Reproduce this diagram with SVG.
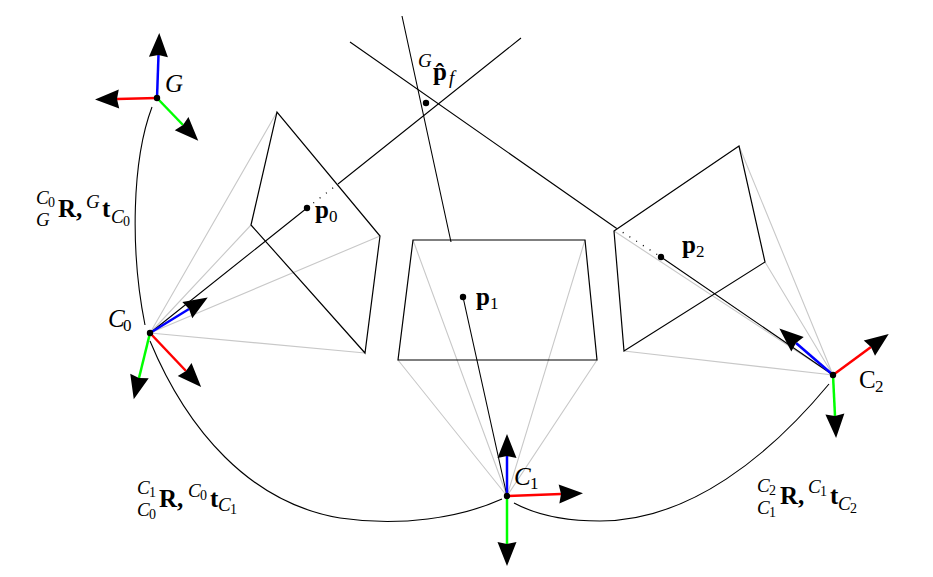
<svg xmlns="http://www.w3.org/2000/svg" width="933" height="577" viewBox="0 0 933 577">
<style>
text{font-family:"Liberation Serif","Times New Roman",serif;fill:#000}
.i{font-style:italic}
.b{font-weight:bold}
.m{font-size:25px}
.s{font-size:19px}
.n{font-size:17px;font-style:normal;font-weight:normal}
.t{font-size:14px;font-style:normal}
.g{stroke:#c8c8c8;stroke-width:1.1;fill:none}
.k{stroke:#000;stroke-width:1.1;fill:none}
.d{stroke:#000;stroke-width:1.3;fill:none;stroke-dasharray:1 7}
.pl{stroke:#000;stroke-width:1.2;fill:none}
.r,.gr,.bl{stroke-width:2.5;fill:none;marker-end:url(#a)}
.r{stroke:#f00}.gr{stroke:#0f0}.bl{stroke:#00f}
</style>
<defs>
<marker id="a" markerUnits="userSpaceOnUse" markerWidth="28" markerHeight="24" refX="3" refY="12" orient="auto">
<path d="M3,12 L1,2.5 L25,12 L1,21.500 Z" fill="#000"/>
</marker>
</defs>
<g id="guides">
<path class="g" d="M150,333L251,225M150,333L277,112M150,333L380,236M150,333L365,353"/>
<path class="g" d="M507,496L413,240M507,496L585,240M507,496L597,360M507,496L398,360"/>
<path class="g" d="M833,375L614,231M833,375L739,146M833,375L765,262M833,375L624,351"/>
</g>
<g id="image-0"><path class="pl" d="M251,225L277,112L380,236L365,353Z"/><circle cx="307" cy="208" r="3.2"/><text x="315" y="218" class="b m">p<tspan class="n" x="329" y="222">0</tspan></text></g>
<g id="image-1"><path class="pl" d="M413,240L585,240L597,360L398,360Z"/><circle cx="463" cy="297" r="3.2"/><text x="476" y="305" class="b m">p<tspan class="n" x="490" y="309">1</tspan></text></g>
<g id="image-2"><path class="pl" d="M614,231L739,146L765,262L624,351Z"/><circle cx="661" cy="257" r="3.2"/><text x="682" y="253" class="b m">p<tspan class="n" x="696" y="257">2</tspan></text></g>
<g id="connectors">
<path class="k" d="M150,333L307,208M338,184L521,38"/>
<path class="d" d="M307,208L338,184"/>
<path class="k" d="M507,496L463,297M451,242L402,16"/>
<path class="k" d="M350,42L616,228M661,257L833,375"/>
<path class="d" d="M616,228L661,257"/>
<path class="k" d="M152,107C132,160 130,250 145,325"/>
<path class="k" d="M150,341C187,430 250,503 340,518C400,527 460,518 502,499"/>
<path class="k" d="M514,503C540,517 570,521 600,521C690,521 770,455 829,384"/>
</g>
<g id="point-f"><circle cx="426" cy="103" r="3.2"/><text x="418" y="67" class="i s">G</text><text x="433" y="80" class="b m">p̂</text><text x="449" y="84" class="i s">f</text></g>
<g id="frame-G">
<line class="bl" x1="157" y1="98" x2="158.500" y2="55"/><line class="r" x1="157" y1="98" x2="117" y2="99"/><line class="gr" x1="157" y1="98" x2="183" y2="125"/>
<circle cx="157" cy="98" r="3.2"/><text x="165" y="92" class="i m">G</text></g>
<g id="frame-C0">
<line class="bl" x1="150" y1="333" x2="189" y2="309"/><line class="r" x1="150" y1="333" x2="186" y2="371"/><line class="gr" x1="150" y1="333" x2="139" y2="378"/>
<circle cx="150" cy="333" r="3.2"/><text x="108" y="327" class="i m">C<tspan class="n" x="123" y="331">0</tspan></text></g>
<g id="frame-C1">
<line class="bl" x1="507" y1="496" x2="507" y2="456"/><line class="r" x1="507" y1="496" x2="561" y2="494"/><line class="gr" x1="507" y1="496" x2="507" y2="544"/>
<circle cx="507" cy="496" r="3.2"/><text x="514" y="485" class="i m">C<tspan class="n" x="530" y="489">1</tspan></text></g>
<g id="frame-C2">
<line class="bl" x1="833" y1="375" x2="796" y2="343"/><line class="r" x1="833" y1="375" x2="871" y2="347"/><line class="gr" x1="833" y1="375" x2="835" y2="416"/>
<circle cx="833" cy="375" r="3.2"/><text x="859" y="388" class="m">C<tspan class="n" x="875" y="392">2</tspan></text></g>
<g id="label-G-C0">
<text x="36" y="204" class="i s">C<tspan class="t" x="48" y="207">0</tspan></text>
<text x="36" y="226" class="i s">G</text>
<text x="58" y="217" class="b m">R,</text>
<text x="86" y="208" class="i s">G</text>
<text x="102" y="217" class="b m">t</text>
<text x="111" y="223" class="i s">C<tspan class="t" x="123" y="226">0</tspan></text>
</g>
<g id="label-C0-C1">
<text x="137" y="494" class="i s">C<tspan class="t" x="149" y="497">1</tspan></text>
<text x="137" y="516" class="i s">C<tspan class="t" x="149" y="519">0</tspan></text>
<text x="159" y="507" class="b m">R,</text>
<text x="188" y="497" class="i s">C<tspan class="t" x="200" y="500">0</tspan></text>
<text x="210" y="507" class="b m">t</text>
<text x="218" y="511" class="i s">C<tspan class="t" x="230" y="514">1</tspan></text>
</g>
<g id="label-C1-C2">
<text x="757" y="492" class="i s">C<tspan class="t" x="769" y="495">2</tspan></text>
<text x="757" y="514" class="i s">C<tspan class="t" x="769" y="517">1</tspan></text>
<text x="780" y="504" class="b m">R,</text>
<text x="808" y="493" class="i s">C<tspan class="t" x="820" y="496">1</tspan></text>
<text x="830" y="504" class="b m">t</text>
<text x="838" y="510" class="i s">C<tspan class="t" x="850" y="513">2</tspan></text>
</g>
</svg>
